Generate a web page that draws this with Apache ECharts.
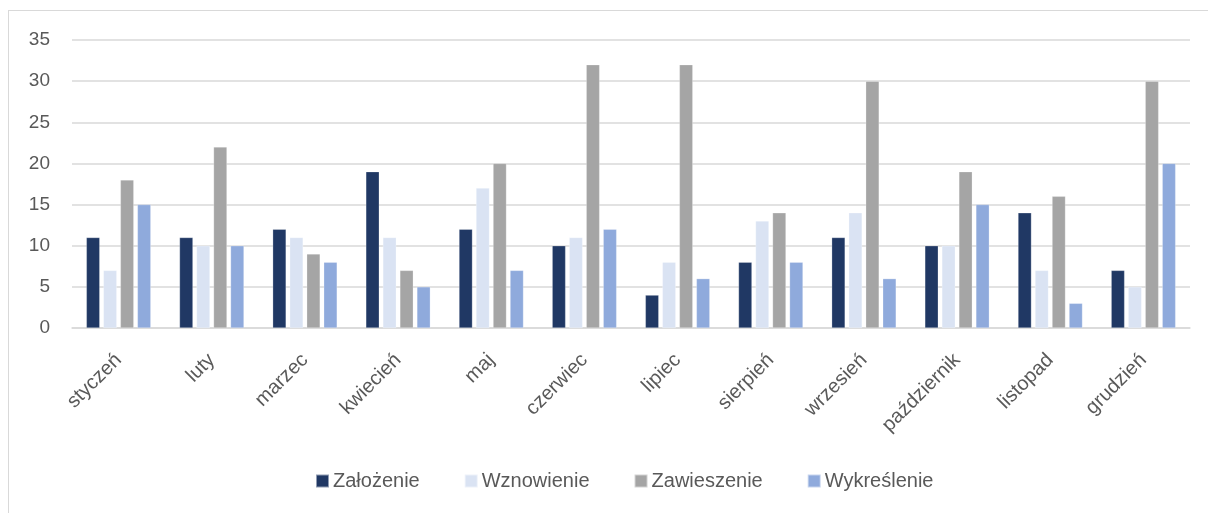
<!DOCTYPE html>
<html>
<head>
<meta charset="utf-8">
<script src="https://cdn.jsdelivr.net/npm/echarts@6/dist/echarts.min.js"></script>
<style>
  html, body { margin: 0; padding: 0; background: #fff; }
  #frame {
    position: absolute; left: 8px; top: 10px; width: 1210px; height: 510px;
    border: 1px solid #d9d9d9; box-sizing: border-box;
  }
  #chart { position: absolute; left: 0; top: 0; width: 1208px; height: 513px; }
</style>
</head>
<body>
<div id="frame"></div>
<div id="chart"></div>
<script>
const months = ['styczeń', 'luty', 'marzec', 'kwiecień', 'maj', 'czerwiec',
  'lipiec', 'sierpień', 'wrzesień', 'październik', 'listopad', 'grudzień']
const zalozenie   = [11, 11, 12, 19, 12, 10, 4, 8, 11, 10, 14, 7]
const wznowienie  = [7, 10, 11, 11, 17, 11, 8, 13, 14, 10, 7, 5]
const zawieszenie = [18, 22, 9, 7, 20, 32, 32, 14, 30, 19, 16, 30]
const wykreslenie = [15, 10, 8, 5, 7, 12, 6, 8, 6, 15, 3, 20]

const seriesNames = ['Założenie', 'Wznowienie', 'Zawieszenie', 'Wykreślenie']
const seriesData = [zalozenie, wznowienie, zawieszenie, wykreslenie]
const colors = ['#203864', '#dae3f3', '#a5a5a5', '#8faadc']

const font = '"Liberation Sans", "DejaVu Sans", sans-serif'
const chart = echarts.init(document.getElementById('chart'))

chart.setOption({
  animation: false,
  color: colors,
  grid: { left: 72, right: 18, top: 40, bottom: 185, containLabel: false },
  legend: {
    bottom: 17,
    left: 310,
    itemWidth: 13,
    itemHeight: 13,
    itemGap: 44,
    icon: 'rect',
    textStyle: { color: '#595959', fontSize: 20, fontFamily: font, padding: [0, 0, 0, -1] },
    data: seriesNames
  },
  xAxis: {
    type: 'category',
    data: months,
    axisLine: { lineStyle: { color: '#d9d9d9', width: 1.5 } },
    axisTick: { show: false },
    axisLabel: {
      rotate: 45, interval: 0, margin: 29,
      color: '#595959', fontSize: 20, fontFamily: font
    }
  },
  yAxis: {
    type: 'value',
    min: 0, max: 35, interval: 5,
    axisLine: { show: false },
    axisTick: { show: false },
    splitLine: { lineStyle: { color: '#d9d9d9', width: 1.5 } },
    axisLabel: { color: '#595959', fontSize: 19, fontFamily: font, margin: 22 }
  },
  series: seriesNames.map((name, i) => ({
    name,
    type: 'bar',
    data: seriesData[i],
    barWidth: 13.4,
    barGap: '27%',
    itemStyle: { color: colors[i], borderColor: 'rgba(255,255,255,0.5)', borderWidth: 0.5 }
  }))
})
</script>
</body>
</html>
